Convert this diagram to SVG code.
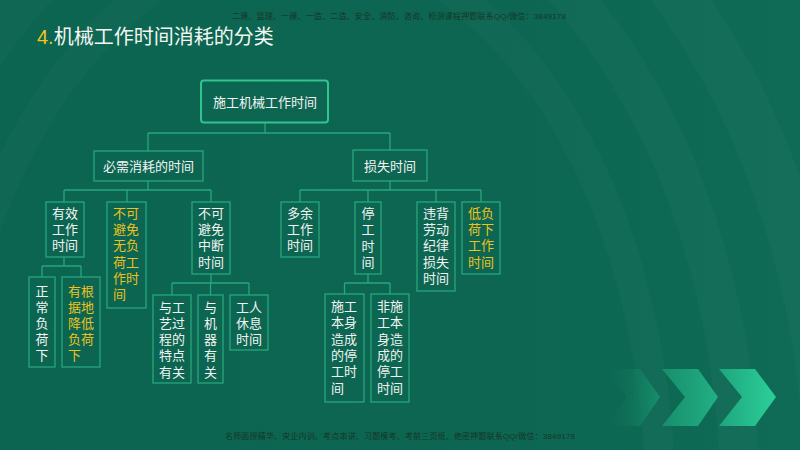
<svg xmlns="http://www.w3.org/2000/svg" width="800" height="450" viewBox="0 0 800 450">
<defs>
<style>
.bx{fill:none;stroke:#27a77d;stroke-width:1.3}
.rt{fill:none;stroke:#31c48f;stroke-width:2}
.ln{fill:none;stroke:#27a77d;stroke-width:1.3}
.t{font-family:"Liberation Sans","Noto Sans CJK SC",sans-serif;font-size:13px;fill:#f2f4f2}
.y{fill:#edc21d}
.c{text-anchor:middle}
.wm{font-family:"Liberation Sans","Noto Sans CJK SC",sans-serif;font-size:8px;fill:#16362a}
</style>
<linearGradient id="bg" x1="0" y1="0" x2="1" y2="0">
<stop offset="0" stop-color="#0b6550"/>
<stop offset="0.6" stop-color="#0c6651"/>
<stop offset="1" stop-color="#0f6b55"/>
</linearGradient>
<linearGradient id="ch3" x1="0" y1="0" x2="1" y2="0">
<stop offset="0" stop-color="#1ea67d"/>
<stop offset="1" stop-color="#2ccf99"/>
</linearGradient>
<linearGradient id="ch2" x1="0" y1="0" x2="1" y2="0">
<stop offset="0" stop-color="#178e6b"/>
<stop offset="1" stop-color="#22b085"/>
</linearGradient>
<linearGradient id="ch1" x1="0" y1="0" x2="1" y2="0">
<stop offset="0" stop-color="#0d6a53" stop-opacity="0"/>
<stop offset="1" stop-color="#16906c"/>
</linearGradient>
</defs>

<rect width="800" height="450" fill="url(#bg)"/>
<g fill="none" stroke="#ffffff" stroke-opacity="0.022">
<ellipse cx="300" cy="500" rx="360" ry="560" stroke-width="30"/>
<ellipse cx="300" cy="500" rx="440" ry="640" stroke-width="40"/>
<ellipse cx="300" cy="500" rx="530" ry="720" stroke-width="50"/>
</g>

<text class="wm" x="232" y="19" textLength="334">二建、监理、一建、一造、二造、安全、消防、咨询、检测课程押题联系QQ/微信：3849178</text>
<text x="37" y="44" font-family="Liberation Sans,Noto Sans CJK SC,sans-serif" font-size="20"><tspan fill="#f0c41e">4.</tspan><tspan fill="#f4f6f4">机械工作时间消耗的分类</tspan></text>

<g id="connectors">
<path class="ln" d="M265 123V133M148 133H390M148 133V151M390 133V150"/>
<path class="ln" d="M148 181V190M64 190H211M64 190V202M127 190V202M211 190V202"/>
<path class="ln" d="M64 257V266M42 266H81M42 266V277M81 266V277"/>
<path class="ln" d="M211 274V283M172 283H249M172 283V295M210.5 283V295M249 283V295"/>
<path class="ln" d="M390 181V190M300 190H481M300 190V202M368 190V202M436 190V202M481 190V202"/>
<path class="ln" d="M368 274V283M344.5 283H390M344.5 283V294M390 283V294"/>
</g>

<g id="root"><rect class="rt" x="201" y="80.5" width="127" height="42" rx="3"/><text class="t c" x="265" y="106.5">施工机械工作时间</text></g>
<g id="bixu"><rect class="bx" x="94" y="151" width="109" height="30"/><text class="t c" x="148.5" y="171">必需消耗的时间</text></g>
<g id="sunshi"><rect class="bx" x="353" y="150" width="74" height="31"/><text class="t c" x="390" y="170.5">损失时间</text></g>

<g id="youxiao"><rect class="bx" x="46" y="202" width="38" height="55"/><text class="t" x="52" y="218"><tspan x="52">有效</tspan><tspan x="52" dy="16">工作</tspan><tspan x="52" dy="16">时间</tspan></text></g>
<g id="wufuhe"><rect class="bx" x="107" y="202" width="39" height="106"/><text class="t y" x="113" y="218"><tspan x="113">不可</tspan><tspan x="113" dy="16.2">避免</tspan><tspan x="113" dy="16.2">无负</tspan><tspan x="113" dy="16.2">荷工</tspan><tspan x="113" dy="16.2">作时</tspan><tspan x="113" dy="16.2">间</tspan></text></g>
<g id="zhongduan"><rect class="bx" x="192" y="202" width="38" height="72"/><text class="t" x="198" y="218"><tspan x="198">不可</tspan><tspan x="198" dy="16.2">避免</tspan><tspan x="198" dy="16.2">中断</tspan><tspan x="198" dy="16.2">时间</tspan></text></g>

<g id="zhengchang"><rect class="bx" x="29" y="277" width="26" height="90"/><text class="t" x="35.5" y="295.5"><tspan x="35.5">正</tspan><tspan x="35.5" dy="16.1">常</tspan><tspan x="35.5" dy="16.1">负</tspan><tspan x="35.5" dy="16.1">荷</tspan><tspan x="35.5" dy="16.1">下</tspan></text></g>
<g id="jiangdi"><rect class="bx" x="62" y="277" width="38" height="90"/><text class="t y" x="68" y="295.5"><tspan x="68">有根</tspan><tspan x="68" dy="16.1">据地</tspan><tspan x="68" dy="16.1">降低</tspan><tspan x="68" dy="16.1">负荷</tspan><tspan x="68" dy="16.1">下</tspan></text></g>

<g id="gongyi"><rect class="bx" x="153" y="295" width="38" height="88"/><text class="t" x="159" y="311.7"><tspan x="159">与工</tspan><tspan x="159" dy="16.2">艺过</tspan><tspan x="159" dy="16.2">程的</tspan><tspan x="159" dy="16.2">特点</tspan><tspan x="159" dy="16.2">有关</tspan></text></g>
<g id="jiqi"><rect class="bx" x="198" y="295" width="25" height="88"/><text class="t" x="204" y="311.7"><tspan x="204">与</tspan><tspan x="204" dy="16.2">机</tspan><tspan x="204" dy="16.2">器</tspan><tspan x="204" dy="16.2">有</tspan><tspan x="204" dy="16.2">关</tspan></text></g>
<g id="xiuxi"><rect class="bx" x="230" y="295" width="38" height="55"/><text class="t" x="236" y="311.7"><tspan x="236">工人</tspan><tspan x="236" dy="16">休息</tspan><tspan x="236" dy="16">时间</tspan></text></g>

<g id="duoyu"><rect class="bx" x="281" y="202" width="38" height="55"/><text class="t" x="287" y="218"><tspan x="287">多余</tspan><tspan x="287" dy="16">工作</tspan><tspan x="287" dy="16">时间</tspan></text></g>
<g id="tinggong"><rect class="bx" x="355" y="202" width="26" height="72"/><text class="t" x="361.5" y="218"><tspan x="361.5">停</tspan><tspan x="361.5" dy="16.3">工</tspan><tspan x="361.5" dy="16.3">时</tspan><tspan x="361.5" dy="16.3">间</tspan></text></g>
<g id="weibei"><rect class="bx" x="417" y="202" width="38" height="89"/><text class="t" x="423" y="218"><tspan x="423">违背</tspan><tspan x="423" dy="16.2">劳动</tspan><tspan x="423" dy="16.2">纪律</tspan><tspan x="423" dy="16.2">损失</tspan><tspan x="423" dy="16.2">时间</tspan></text></g>
<g id="difuhe"><rect class="bx" x="462" y="202" width="38" height="72"/><text class="t y" x="468" y="218"><tspan x="468">低负</tspan><tspan x="468" dy="16.2">荷下</tspan><tspan x="468" dy="16.2">工作</tspan><tspan x="468" dy="16.2">时间</tspan></text></g>

<g id="shigong"><rect class="bx" x="325" y="294" width="39" height="108"/><text class="t" x="331" y="311"><tspan x="331">施工</tspan><tspan x="331" dy="16.3">本身</tspan><tspan x="331" dy="16.3">造成</tspan><tspan x="331" dy="16.3">的停</tspan><tspan x="331" dy="16.3">工时</tspan><tspan x="331" dy="16.3">间</tspan></text></g>
<g id="feishigong"><rect class="bx" x="371" y="294" width="38" height="108"/><text class="t" x="377" y="311"><tspan x="377">非施</tspan><tspan x="377" dy="16.3">工本</tspan><tspan x="377" dy="16.3">身造</tspan><tspan x="377" dy="16.3">成的</tspan><tspan x="377" dy="16.3">停工</tspan><tspan x="377" dy="16.3">时间</tspan></text></g>

<polygon points="605,369 640,369 660,397 640,426 605,426 627,397" fill="url(#ch1)"/>
<polygon points="662,369 698,369 718,397 698,426 662,426 685,397" fill="url(#ch2)"/>
<polygon points="719,369 755,369 776,397 755,426 719,426 742,397" fill="url(#ch3)"/>

<text class="wm" x="225" y="439" textLength="350">名师面授精华、央企内训、考点串讲、习题模考、考前三页纸、绝密押题联系QQ/微信：3849178</text>
</svg>
